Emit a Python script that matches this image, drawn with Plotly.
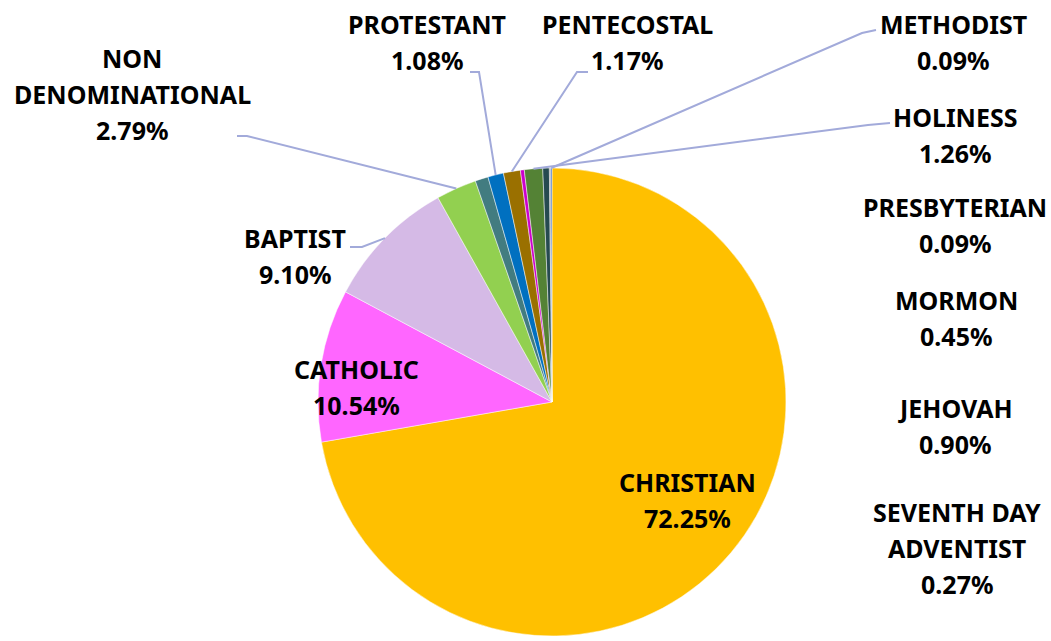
import math
import plotly.graph_objects as go

# ---- data ----
labels = ["CHRISTIAN", "CATHOLIC", "BAPTIST", "NON DENOMINATIONAL", "JEHOVAH",
          "PROTESTANT", "PENTECOSTAL", "SEVENTH DAY ADVENTIST", "HOLINESS",
          "MORMON", "PRESBYTERIAN", "METHODIST"]
values = [72.25, 10.54, 9.10, 2.79, 0.90, 1.08, 1.17, 0.27, 1.26, 0.45, 0.09, 0.09]
label_lines = {
    "CHRISTIAN": ["CHRISTIAN"],
    "CATHOLIC": ["CATHOLIC"],
    "BAPTIST": ["BAPTIST"],
    "NON DENOMINATIONAL": ["NON", "DENOMINATIONAL"],
    "JEHOVAH": ["JEHOVAH"],
    "PROTESTANT": ["PROTESTANT"],
    "PENTECOSTAL": ["PENTECOSTAL"],
    "SEVENTH DAY ADVENTIST": ["SEVENTH DAY", "ADVENTIST"],
    "HOLINESS": ["HOLINESS"],
    "MORMON": ["MORMON"],
    "PRESBYTERIAN": ["PRESBYTERIAN"],
    "METHODIST": ["METHODIST"],
}

# ---- styling / layout ----
colors = ["#FFC000", "#FF66FF", "#D5BAE6", "#92D050", "#427C80", "#0070C0",
          "#9A7000", "#CC00CC", "#548235", "#264A50", "#7F7F7F", "#4472C4"]
W, H = 1051, 641
CX, CY, R = 552, 402, 234
FONT = "Noto Sans"
FS = 25
LINE_GAP = 36
LEADER = "#A2AADA"

# label position: (center x px, first-line y px)
label_pos = {
    "CHRISTIAN": (687, 482),
    "CATHOLIC": (356, 369),
    "BAPTIST": (295, 238),
    "NON DENOMINATIONAL": (132, 58),
    "PROTESTANT": (427, 24),
    "PENTECOSTAL": (627, 24),
    "METHODIST": (953, 24),
    "HOLINESS": (955, 117),
    "PRESBYTERIAN": (955, 207),
    "MORMON": (956, 300),
    "JEHOVAH": (955, 408),
    "SEVENTH DAY ADVENTIST": (957, 512),
}
# leader lines: (elbow x, elbow y, end x, end y) in px
leaders = {
    "NON DENOMINATIONAL": (247, 136, 237, 136),
    "BAPTIST": (362, 247, 350, 247),
    "PROTESTANT": (479, 72, 470, 72),
    "PENTECOSTAL": (577, 72, 588, 72),
    "METHODIST": (862, 33, 876, 30),
    "HOLINESS": (868, 125, 890, 123),
}


def px(x):
    return x / W


def py(y):
    return 1 - y / H


fig = go.Figure(go.Pie(
    labels=labels, values=values, sort=False, direction="clockwise", rotation=0,
    textinfo="none", hoverinfo="label+percent",
    marker=dict(colors=colors, line=dict(color="rgba(255,255,255,0.6)", width=0.8)),
    domain=dict(x=[px(CX - R), px(CX + R)], y=[py(CY + R), py(CY - R)]),
    showlegend=False,
))

total = sum(values)
cum = 0.0
anchors = {}
for lab, v in zip(labels, values):
    mid = (cum + v / 2) / total * 2 * math.pi
    anchors[lab] = (CX + R * math.sin(mid), CY - R * math.cos(mid))
    cum += v

annotations = []
for lab, v in zip(labels, values):
    x0, y0 = label_pos[lab]
    lines = label_lines[lab] + ["{:.2f}%".format(v)]
    for i, t in enumerate(lines):
        annotations.append(dict(
            x=px(x0), y=py(y0 + i * LINE_GAP), xref="paper", yref="paper",
            text="<b>" + t + "</b>", showarrow=False, xanchor="center", yanchor="middle",
            font=dict(family=FONT, size=FS, color="#000000"),
        ))

shapes = []
for lab, (ex, ey, tx, ty) in leaders.items():
    ax, ay = anchors[lab]
    path = "M {:.5f},{:.5f} L {:.5f},{:.5f} L {:.5f},{:.5f}".format(
        px(ax), py(ay), px(ex), py(ey), px(tx), py(ty))
    shapes.append(dict(type="path", path=path, xref="paper", yref="paper",
                       line=dict(color=LEADER, width=2)))

fig.update_layout(
    width=W, height=H, margin=dict(l=0, r=0, t=0, b=0),
    paper_bgcolor="white", plot_bgcolor="white",
    annotations=annotations, shapes=shapes,
)

fig.write_html("out.html", config={"displayModeBar": False},
               post_script="document.body.style.margin='0';document.body.style.overflow='hidden';")
